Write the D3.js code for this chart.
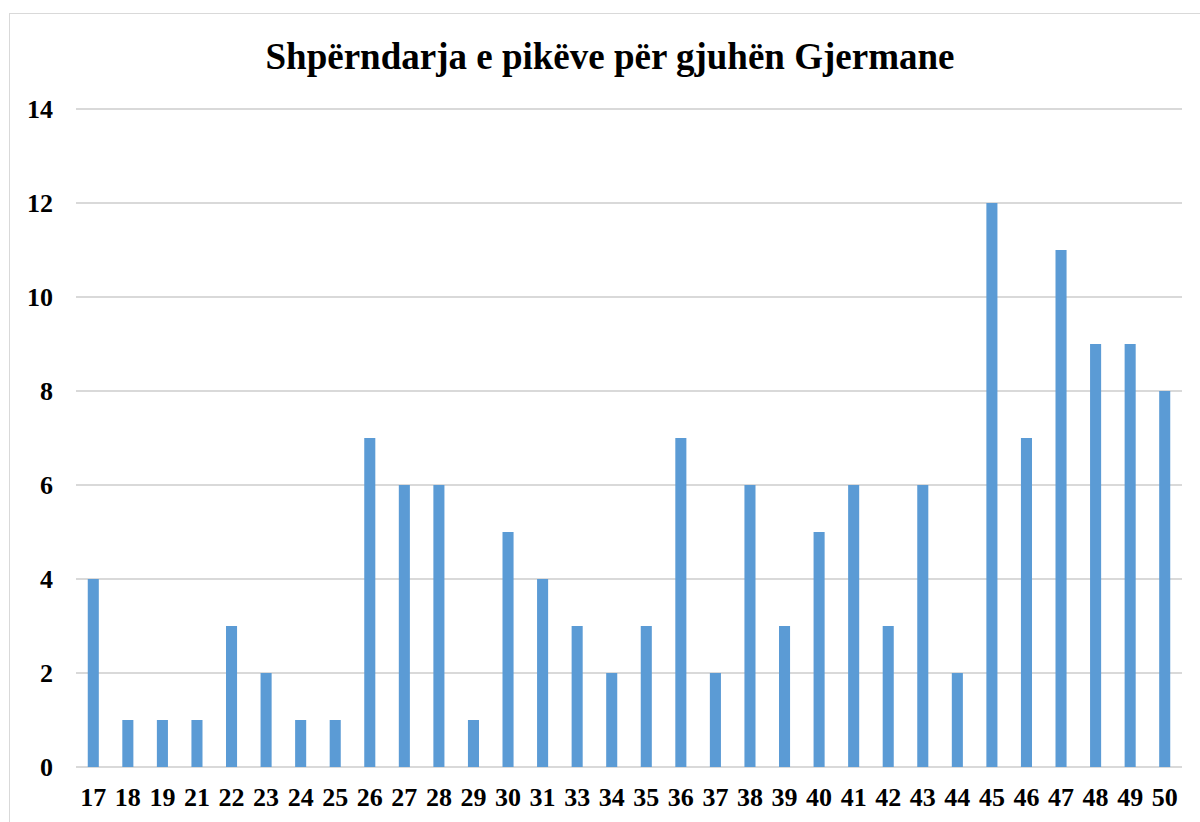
<!DOCTYPE html>
<html>
<head>
<meta charset="utf-8">
<script src="https://cdnjs.cloudflare.com/ajax/libs/d3/7.8.5/d3.min.js"></script>
<style>
  body { margin: 0; background: #fff; }
  .axis text { font-family: "Liberation Serif", "Times New Roman", serif; font-weight: bold; font-size: 26px; fill: #000; }
</style>
</head>
<body>
<script>
// Data
var scores = ["17","18","19","21","22","23","24","25","26","27","28","29","30","31","33","34","35","36","37","38","39","40","41","42","43","44","45","46","47","48","49","50"];
var counts = [4,1,1,1,3,2,1,1,7,6,6,1,5,4,3,2,3,7,2,6,3,5,6,3,6,2,12,7,11,9,9,8];
var yTicks = [0,2,4,6,8,10,12,14];

var W = 1200, H = 822;
var margin = {left: 76, right: 18, top: 109, bottom: 55};
var width = W - margin.left - margin.right,
    height = H - margin.top - margin.bottom;

var svg = d3.select("body").append("svg")
    .attr("width", W)
    .attr("height", H);

// outer chart border
svg.append("rect")
    .attr("x", 9.5).attr("y", 13.5)
    .attr("width", 1220).attr("height", 840)
    .attr("fill", "none")
    .attr("stroke", "#d9d9d9")
    .attr("stroke-width", 1);

// title
svg.append("text")
    .attr("x", 610)
    .attr("y", 69)
    .attr("text-anchor", "middle")
    .style("font-family", "'Liberation Serif', 'Times New Roman', serif")
    .style("font-weight", "bold")
    .style("font-size", "37px")
    .text("Shpërndarja e pikëve për gjuhën Gjermane");

var g = svg.append("g")
    .attr("transform", "translate(" + margin.left + "," + margin.top + ")");

var xScale = d3.scaleBand()
    .domain(scores)
    .range([0, width])
    .paddingInner(0.68)
    .paddingOuter(0.34);

var yScale = d3.scaleLinear()
    .domain([0, 14])
    .range([height, 0]);

// gridlines
g.selectAll(".grid")
    .data(yTicks)
    .enter().append("line")
    .attr("class", "grid")
    .attr("x1", 0).attr("x2", width)
    .attr("y1", function(d) { return yScale(d); })
    .attr("y2", function(d) { return yScale(d); })
    .attr("stroke", "#d9d9d9")
    .attr("stroke-width", 2);

// bars
g.selectAll(".bar")
    .data(counts)
    .enter().append("rect")
    .attr("class", "bar")
    .attr("x", function(d, i) { return xScale(scores[i]); })
    .attr("width", xScale.bandwidth())
    .attr("y", function(d) { return yScale(d); })
    .attr("height", function(d) { return yScale(0) - yScale(d); })
    .attr("fill", "#5b9bd5");

// y axis
var yAxis = g.append("g")
    .attr("class", "axis")
    .call(d3.axisLeft(yScale).tickValues(yTicks).tickSize(0).tickPadding(23));
yAxis.select(".domain").remove();

// x axis
var xAxis = g.append("g")
    .attr("class", "axis")
    .attr("transform", "translate(0," + height + ")")
    .call(d3.axisBottom(xScale).tickSize(0).tickPadding(21));
xAxis.select(".domain").remove();
</script>
</body>
</html>
